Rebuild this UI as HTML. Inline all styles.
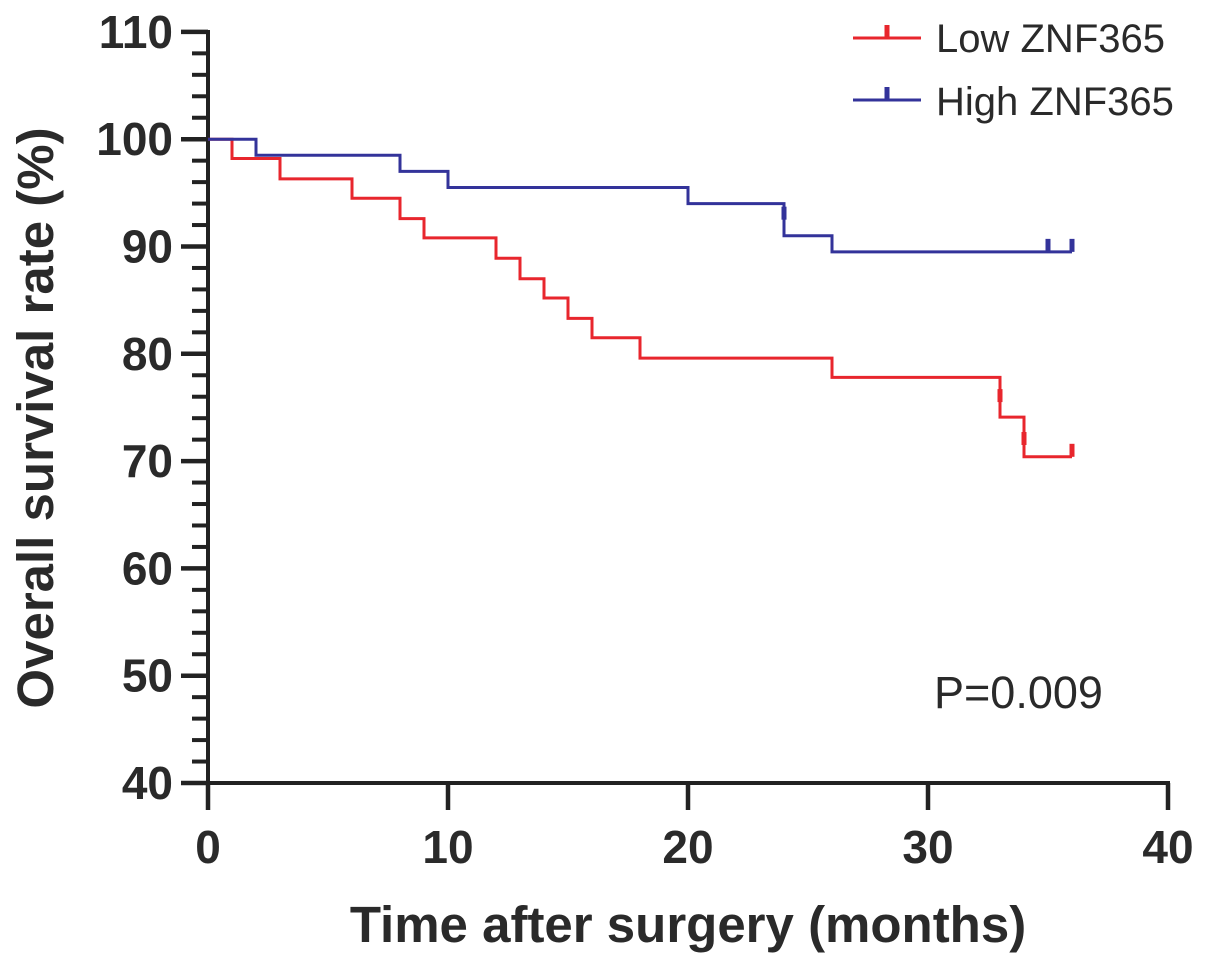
<!DOCTYPE html>
<html><head><meta charset="utf-8"><style>
body{margin:0;background:#fff}
svg{display:block;font-family:"Liberation Sans",Arial,sans-serif}
</style></head><body>
<svg id="c" width="1205" height="966" viewBox="0 0 1205 966"></svg>
<script>
const lowTimes=[0,1,3,6,8,9,12,13,14,15,16,18,26,33,34];
const lowValues=[100,98.2,96.3,94.5,92.6,90.8,88.9,87.0,85.2,83.3,81.5,79.6,77.8,74.1,70.4];
const lowCensor=[[36,70.4],[34,71.5],[33,75.5]];
const highTimes=[0,2,8,10,20,24,26];
const highValues=[100,98.5,97.0,95.5,94.0,91.0,89.5];
const highCensor=[[35,89.5],[36,89.5],[24,92.5]];
const endTime=36;
const xTicks=[0,10,20,30,40];
const yTicks=[40,50,60,70,80,90,100,110];

const svg=document.getElementById('c');
const NS='http://www.w3.org/2000/svg';
const X=t=>208+t*24;
const Y=v=>783-(v-40)*10.73;
function mk(tag,attrs,parent){const e=document.createElementNS(NS,tag);for(const k in attrs)e.setAttribute(k,attrs[k]);(parent||svg).appendChild(e);return e;}

let ax=mk('line',{x1:208,y1:30,x2:208,y2:785,stroke:'#222','stroke-width':4});


ax=mk('line',{x1:206,y1:783,x2:1170,y2:783,stroke:'#222','stroke-width':4});


for(let v=40;v<=110;v+=2){
  const major=(v%10===0);
  const t=mk('line',{x1:major?181:192,y1:Y(v),x2:208,y2:Y(v),stroke:'#222','stroke-width':major?4.5:4});
  
  
}
yTicks.forEach(v=>{
  const t=mk('text',{x:173,y:Y(v)+16,'text-anchor':'end','font-size':46,'font-weight':'bold',fill:'#2a2a2a'});
  t.textContent=v;
  
  
});
xTicks.forEach(v=>{
  const l=mk('line',{x1:X(v),y1:783,x2:X(v),y2:810,stroke:'#222','stroke-width':4.5});
  
  
  const t=mk('text',{x:X(v),y:863,'text-anchor':'middle','font-size':46,'font-weight':'bold',fill:'#2a2a2a'});
  t.textContent=v;
  
  
});
let tt=mk('text',{x:688,y:942,'text-anchor':'middle','font-size':51,'font-weight':'bold',fill:'#2a2a2a'});
tt.textContent='Time after surgery (months)';


tt=mk('text',{x:0,y:0,transform:'translate(53,418) rotate(-90)','text-anchor':'middle','font-size':51,'font-weight':'bold',fill:'#2a2a2a'});
tt.textContent='Overall survival rate (%)';



function curve(times,vals,cens,color,name){
  let d='M'+X(times[0])+','+Y(vals[0]);
  for(let i=1;i<times.length;i++){d+=' H'+X(times[i])+' V'+Y(vals[i]);}
  d+=' H'+X(endTime);
  const p=mk('path',{d:d,fill:'none',stroke:color,'stroke-width':3});
  
  
  cens.forEach(c=>{
    const m=mk('line',{x1:X(c[0]),y1:Y(c[1]),x2:X(c[0]),y2:Y(c[1])-13,stroke:color,'stroke-width':5});
    
    
  });
}
curve(lowTimes,lowValues,lowCensor,'#e8262d','low-znf365');
curve(highTimes,highValues,highCensor,'#33339a','high-znf365');

function legend(y,ty,color,label,name){
  const g=mk('g',{});
  
  
  mk('line',{x1:853,y1:y,x2:921,y2:y,stroke:color,'stroke-width':3},g);
  mk('line',{x1:887,y1:y,x2:887,y2:y-13,stroke:color,'stroke-width':5},g);
  const t=mk('text',{x:936,y:ty,'font-size':40,fill:'#2a2a2a'},g);
  t.textContent=label;
}
legend(38,52,'#e8262d','Low ZNF365','legend-entry-low');
legend(100,115,'#33339a','High ZNF365','legend-entry-high');

tt=mk('text',{x:934,y:708,'font-size':45,fill:'#2a2a2a'});
tt.textContent='P=0.009';


</script>
</body></html>
